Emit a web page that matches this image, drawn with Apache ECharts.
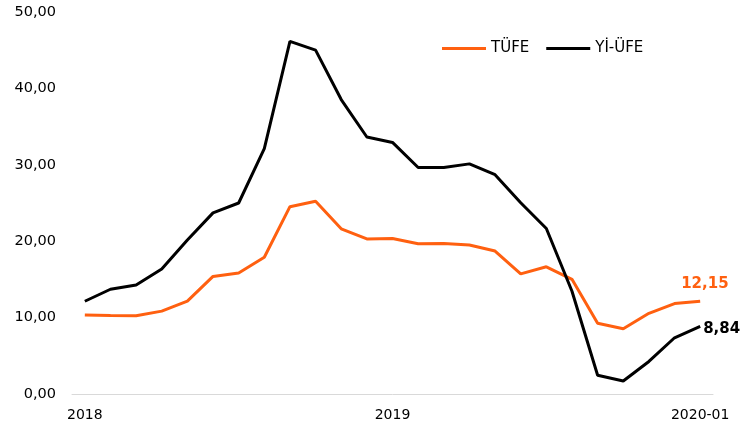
<!DOCTYPE html>
<html><head><meta charset="utf-8">
<script src="https://cdn.jsdelivr.net/npm/echarts@6/dist/echarts.min.js"></script>
<style>html,body{margin:0;padding:0;background:#fff}#c{width:751px;height:428px}</style>
</head><body><div id="c"></div>
<script>
const categories = ['2018-01','2018-02','2018-03','2018-04','2018-05','2018-06','2018-07','2018-08','2018-09','2018-10','2018-11','2018-12',
  '2019-01','2019-02','2019-03','2019-04','2019-05','2019-06','2019-07','2019-08','2019-09','2019-10','2019-11','2019-12','2020-01'];
const tickLabels = {'2018-01':'2018','2019-01':'2019','2020-01':'2020-01'};
const tufe = [10.35,10.26,10.23,10.85,12.15,15.39,15.85,17.90,24.52,25.24,21.62,20.30,
  20.35,19.67,19.71,19.50,18.71,15.72,16.65,15.01,9.26,8.55,10.56,11.84,12.15];
const yiufe = [12.14,13.71,14.28,16.37,20.16,23.71,25.00,32.13,46.15,45.01,38.54,33.64,
  32.93,29.64,29.64,30.12,28.71,25.04,21.66,13.45,2.45,1.70,4.26,7.36,8.84];
const yTicks = {min:0, max:50, interval:10};

const fmt = v => v.toFixed(2).replace('.', ',');
const font = 'DejaVu Sans';
const chart = echarts.init(document.getElementById('c'));
chart.setOption({
  animation:false,
  grid:{left:72, right:38, top:12, bottom:34},
  legend:{top:41, left:442, padding:0, itemWidth:44, itemHeight:3, itemGap:17, icon:'rect',
    textStyle:{fontFamily:font, fontSize:15, color:'#000'}, data:['TÜFE','Yİ-ÜFE']},
  xAxis:{type:'category', data:categories, boundaryGap:true,
    axisLine:{lineStyle:{color:'#d9d9d9', width:1}}, axisTick:{show:false},
    axisLabel:{interval:0, formatter:v=>tickLabels[v]||'', color:'#000', fontFamily:font, fontSize:14, margin:14}},
  yAxis:{type:'value', min:yTicks.min, max:yTicks.max, interval:yTicks.interval,
    splitLine:{show:false}, axisLine:{show:false}, axisTick:{show:false},
    axisLabel:{formatter:v=>fmt(v), color:'#000', fontFamily:font, fontSize:14.5, margin:16}},
  series:[
    {name:'TÜFE', type:'line', data:tufe, symbol:'none', lineStyle:{color:'#FF6010', width:3}, itemStyle:{color:'#FF6010'},
      endLabel:{show:true, formatter:p=>fmt(p.value), color:'#FF6010', fontWeight:'bold', fontSize:15, fontFamily:font, distance:0, offset:[-19,-17]}},
    {name:'Yİ-ÜFE', type:'line', data:yiufe, symbol:'none', lineStyle:{color:'#000', width:3}, itemStyle:{color:'#000'},
      endLabel:{show:true, formatter:p=>fmt(p.value), color:'#000', fontWeight:'bold', fontSize:15, fontFamily:font, distance:3, offset:[0,3]}}
  ]
});
</script></body></html>
